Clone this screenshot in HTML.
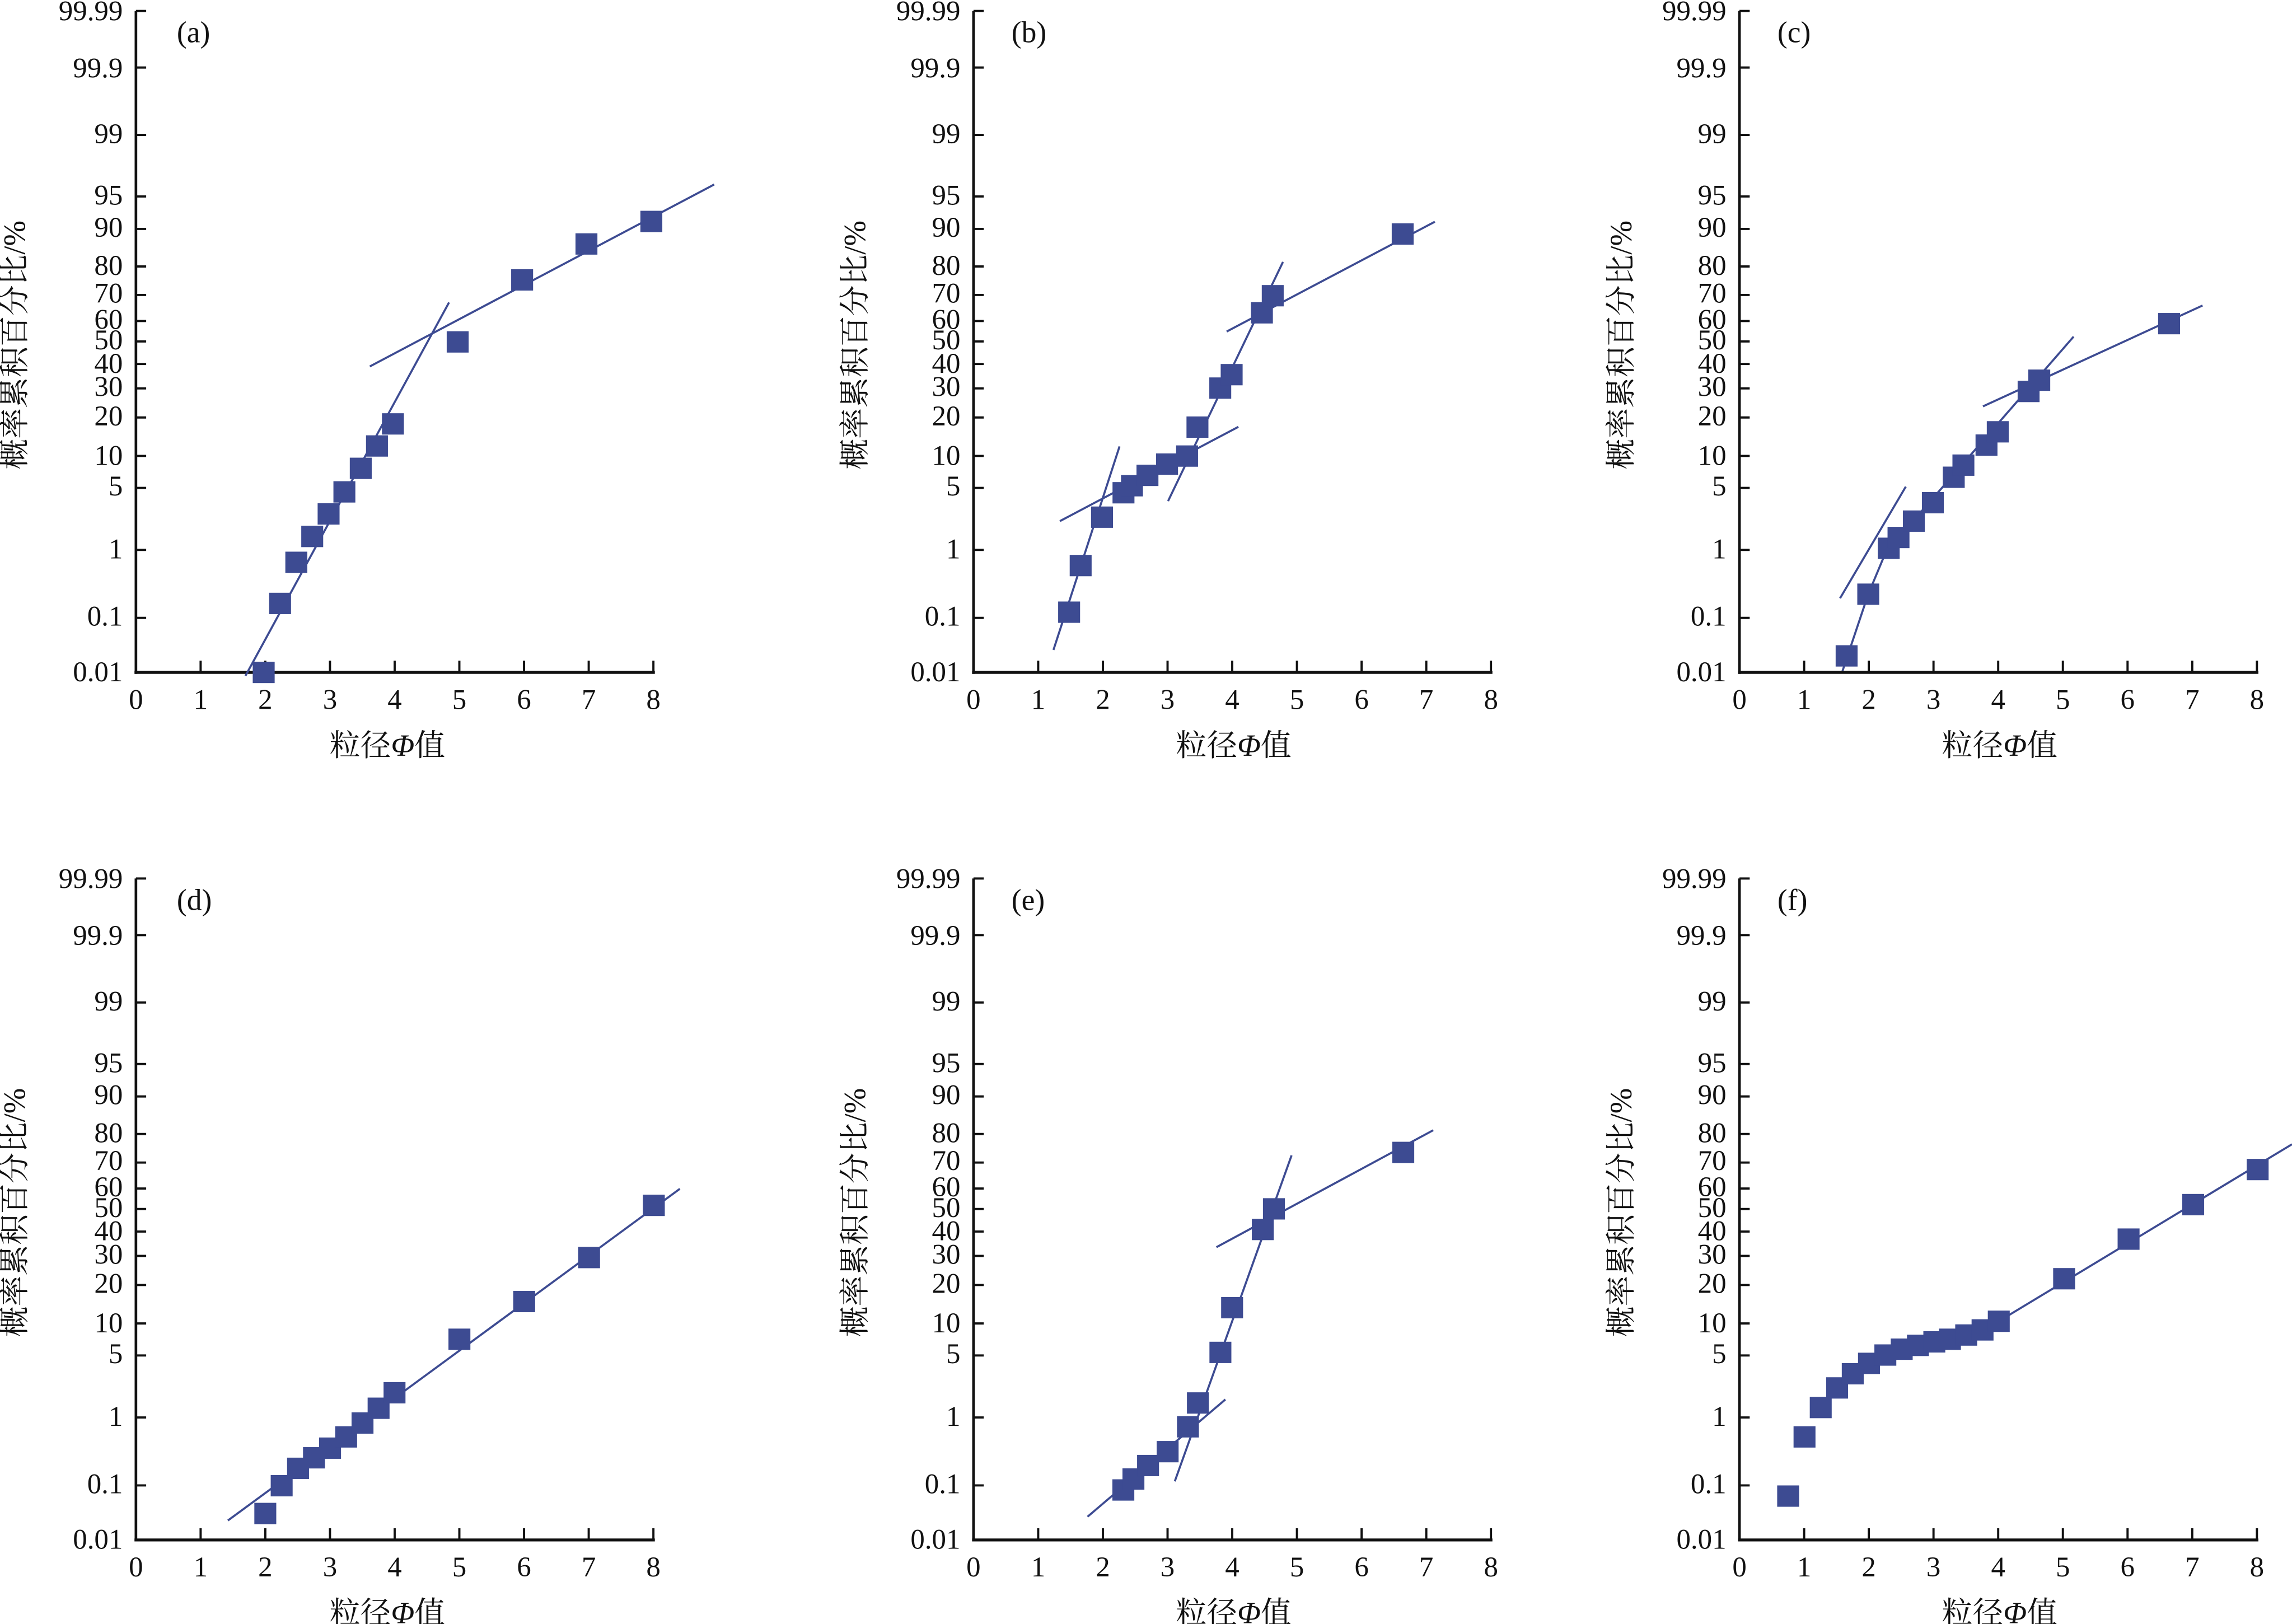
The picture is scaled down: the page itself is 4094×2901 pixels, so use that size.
<!DOCTYPE html>
<html><head><meta charset="utf-8">
<style>
html,body{margin:0;padding:0;background:#fff;}
svg{display:block;}
text{font-family:"Liberation Serif","Times New Roman","Noto Serif CJK SC","Noto Sans CJK SC",serif;fill:#111;}
.yl{font-size:19.5px;text-anchor:end;}
.xl{font-size:19.5px;text-anchor:middle;}
.tt{font-size:21px;text-anchor:middle;}
.pl{font-size:20.5px;}
</style></head>
<body>
<svg id="s" width="4094" height="2901" viewBox="0 0 1568 1111" preserveAspectRatio="none" xmlns="http://www.w3.org/2000/svg">
<g id="axes"></g>

<g transform="translate(93,0)">
<text class="yl" x="-9" y="14">99.99</text><text class="yl" x="-9" y="53">99.9</text><text class="yl" x="-9" y="98">99</text><text class="yl" x="-9" y="140">95</text><text class="yl" x="-9" y="162">90</text><text class="yl" x="-9" y="188">80</text><text class="yl" x="-9" y="207">70</text><text class="yl" x="-9" y="225">60</text><text class="yl" x="-9" y="239">50</text><text class="yl" x="-9" y="255">40</text><text class="yl" x="-9" y="271">30</text><text class="yl" x="-9" y="291">20</text><text class="yl" x="-9" y="318">10</text><text class="yl" x="-9" y="339">5</text><text class="yl" x="-9" y="382">1</text><text class="yl" x="-9" y="428">0.1</text><text class="yl" x="-9" y="466">0.01</text>
<text class="xl" x="0" y="485">0</text><text class="xl" x="44.25" y="485">1</text><text class="xl" x="88.5" y="485">2</text><text class="xl" x="132.75" y="485">3</text><text class="xl" x="177" y="485">4</text><text class="xl" x="221.25" y="485">5</text><text class="xl" x="265.5" y="485">6</text><text class="xl" x="309.75" y="485">7</text><text class="xl" x="354" y="485">8</text>
<text class="tt" x="172" y="517">粒径<tspan font-style="italic">Φ</tspan>值</text>
<text class="tt" transform="translate(-76,236) rotate(-90)">概率累积百分比/%</text>
<text class="pl" x="28" y="29">(a)</text>
</g>
<g transform="translate(666,0)">
<text class="yl" x="-9" y="14">99.99</text><text class="yl" x="-9" y="53">99.9</text><text class="yl" x="-9" y="98">99</text><text class="yl" x="-9" y="140">95</text><text class="yl" x="-9" y="162">90</text><text class="yl" x="-9" y="188">80</text><text class="yl" x="-9" y="207">70</text><text class="yl" x="-9" y="225">60</text><text class="yl" x="-9" y="239">50</text><text class="yl" x="-9" y="255">40</text><text class="yl" x="-9" y="271">30</text><text class="yl" x="-9" y="291">20</text><text class="yl" x="-9" y="318">10</text><text class="yl" x="-9" y="339">5</text><text class="yl" x="-9" y="382">1</text><text class="yl" x="-9" y="428">0.1</text><text class="yl" x="-9" y="466">0.01</text>
<text class="xl" x="0" y="485">0</text><text class="xl" x="44.25" y="485">1</text><text class="xl" x="88.5" y="485">2</text><text class="xl" x="132.75" y="485">3</text><text class="xl" x="177" y="485">4</text><text class="xl" x="221.25" y="485">5</text><text class="xl" x="265.5" y="485">6</text><text class="xl" x="309.75" y="485">7</text><text class="xl" x="354" y="485">8</text>
<text class="tt" x="178" y="517">粒径<tspan font-style="italic">Φ</tspan>值</text>
<text class="tt" transform="translate(-74,236) rotate(-90)">概率累积百分比/%</text>
<text class="pl" x="26" y="29">(b)</text>
</g>
<g transform="translate(1190,0)">
<text class="yl" x="-9" y="14">99.99</text><text class="yl" x="-9" y="53">99.9</text><text class="yl" x="-9" y="98">99</text><text class="yl" x="-9" y="140">95</text><text class="yl" x="-9" y="162">90</text><text class="yl" x="-9" y="188">80</text><text class="yl" x="-9" y="207">70</text><text class="yl" x="-9" y="225">60</text><text class="yl" x="-9" y="239">50</text><text class="yl" x="-9" y="255">40</text><text class="yl" x="-9" y="271">30</text><text class="yl" x="-9" y="291">20</text><text class="yl" x="-9" y="318">10</text><text class="yl" x="-9" y="339">5</text><text class="yl" x="-9" y="382">1</text><text class="yl" x="-9" y="428">0.1</text><text class="yl" x="-9" y="466">0.01</text>
<text class="xl" x="0" y="485">0</text><text class="xl" x="44.25" y="485">1</text><text class="xl" x="88.5" y="485">2</text><text class="xl" x="132.75" y="485">3</text><text class="xl" x="177" y="485">4</text><text class="xl" x="221.25" y="485">5</text><text class="xl" x="265.5" y="485">6</text><text class="xl" x="309.75" y="485">7</text><text class="xl" x="354" y="485">8</text>
<text class="tt" x="178" y="517">粒径<tspan font-style="italic">Φ</tspan>值</text>
<text class="tt" transform="translate(-74,236) rotate(-90)">概率累积百分比/%</text>
<text class="pl" x="26" y="29">(c)</text>
</g>
<g transform="translate(93,593.5)">
<text class="yl" x="-9" y="14">99.99</text><text class="yl" x="-9" y="53">99.9</text><text class="yl" x="-9" y="98">99</text><text class="yl" x="-9" y="140">95</text><text class="yl" x="-9" y="162">90</text><text class="yl" x="-9" y="188">80</text><text class="yl" x="-9" y="207">70</text><text class="yl" x="-9" y="225">60</text><text class="yl" x="-9" y="239">50</text><text class="yl" x="-9" y="255">40</text><text class="yl" x="-9" y="271">30</text><text class="yl" x="-9" y="291">20</text><text class="yl" x="-9" y="318">10</text><text class="yl" x="-9" y="339">5</text><text class="yl" x="-9" y="382">1</text><text class="yl" x="-9" y="428">0.1</text><text class="yl" x="-9" y="466">0.01</text>
<text class="xl" x="0" y="485">0</text><text class="xl" x="44.25" y="485">1</text><text class="xl" x="88.5" y="485">2</text><text class="xl" x="132.75" y="485">3</text><text class="xl" x="177" y="485">4</text><text class="xl" x="221.25" y="485">5</text><text class="xl" x="265.5" y="485">6</text><text class="xl" x="309.75" y="485">7</text><text class="xl" x="354" y="485">8</text>
<text class="tt" x="172" y="517">粒径<tspan font-style="italic">Φ</tspan>值</text>
<text class="tt" transform="translate(-76,236) rotate(-90)">概率累积百分比/%</text>
<text class="pl" x="28" y="29">(d)</text>
</g>
<g transform="translate(666,593.5)">
<text class="yl" x="-9" y="14">99.99</text><text class="yl" x="-9" y="53">99.9</text><text class="yl" x="-9" y="98">99</text><text class="yl" x="-9" y="140">95</text><text class="yl" x="-9" y="162">90</text><text class="yl" x="-9" y="188">80</text><text class="yl" x="-9" y="207">70</text><text class="yl" x="-9" y="225">60</text><text class="yl" x="-9" y="239">50</text><text class="yl" x="-9" y="255">40</text><text class="yl" x="-9" y="271">30</text><text class="yl" x="-9" y="291">20</text><text class="yl" x="-9" y="318">10</text><text class="yl" x="-9" y="339">5</text><text class="yl" x="-9" y="382">1</text><text class="yl" x="-9" y="428">0.1</text><text class="yl" x="-9" y="466">0.01</text>
<text class="xl" x="0" y="485">0</text><text class="xl" x="44.25" y="485">1</text><text class="xl" x="88.5" y="485">2</text><text class="xl" x="132.75" y="485">3</text><text class="xl" x="177" y="485">4</text><text class="xl" x="221.25" y="485">5</text><text class="xl" x="265.5" y="485">6</text><text class="xl" x="309.75" y="485">7</text><text class="xl" x="354" y="485">8</text>
<text class="tt" x="178" y="517">粒径<tspan font-style="italic">Φ</tspan>值</text>
<text class="tt" transform="translate(-74,236) rotate(-90)">概率累积百分比/%</text>
<text class="pl" x="26" y="29">(e)</text>
</g>
<g transform="translate(1190,593.5)">
<text class="yl" x="-9" y="14">99.99</text><text class="yl" x="-9" y="53">99.9</text><text class="yl" x="-9" y="98">99</text><text class="yl" x="-9" y="140">95</text><text class="yl" x="-9" y="162">90</text><text class="yl" x="-9" y="188">80</text><text class="yl" x="-9" y="207">70</text><text class="yl" x="-9" y="225">60</text><text class="yl" x="-9" y="239">50</text><text class="yl" x="-9" y="255">40</text><text class="yl" x="-9" y="271">30</text><text class="yl" x="-9" y="291">20</text><text class="yl" x="-9" y="318">10</text><text class="yl" x="-9" y="339">5</text><text class="yl" x="-9" y="382">1</text><text class="yl" x="-9" y="428">0.1</text><text class="yl" x="-9" y="466">0.01</text>
<text class="xl" x="0" y="485">0</text><text class="xl" x="44.25" y="485">1</text><text class="xl" x="88.5" y="485">2</text><text class="xl" x="132.75" y="485">3</text><text class="xl" x="177" y="485">4</text><text class="xl" x="221.25" y="485">5</text><text class="xl" x="265.5" y="485">6</text><text class="xl" x="309.75" y="485">7</text><text class="xl" x="354" y="485">8</text>
<text class="tt" x="178" y="517">粒径<tspan font-style="italic">Φ</tspan>值</text>
<text class="tt" transform="translate(-74,236) rotate(-90)">概率累积百分比/%</text>
<text class="pl" x="26" y="29">(f)</text>
</g>

<g stroke="#3d4b92" stroke-width="1.4" fill="none">
<line x1="167.9" y1="462.4" x2="307.2" y2="206.9"/><line x1="253" y1="250.7" x2="488.6" y2="126.2"/>
<line x1="720.7" y1="444.6" x2="765.9" y2="305.4"/><line x1="725.1" y1="356.5" x2="847.2" y2="292"/><line x1="799.1" y1="342.8" x2="877.7" y2="179.2"/><line x1="839.2" y1="226.8" x2="981.6" y2="151.7"/>
<line x1="1258.8" y1="409.3" x2="1303.8" y2="332.9"/><polyline points="1260.5,459 1278.1,406.5 1290,378 1418.6,230.3"/><line x1="1356.6" y1="278" x2="1506.8" y2="209"/>
<line x1="155.9" y1="1040.2" x2="465.1" y2="813.3"/>
<line x1="744" y1="1037.6" x2="838.3" y2="957.4"/><line x1="803.7" y1="1013.4" x2="883.6" y2="790.4"/><line x1="832.2" y1="853.2" x2="980.5" y2="773.2"/>
<line x1="1367.4" y1="903.9" x2="1568" y2="782.8"/>
</g>
<g id="sq" fill="#3d4b92"></g>
</svg>
<script>
var NS="http://www.w3.org/2000/svg";
var ax=document.getElementById("axes");
var ticks=[7.5,46.2,92.3,134.4,156.6,182.3,201.8,219.6,233.6,249,265.7,285.6,311.9,333.8,376.2,422.7];
function el(p,n,a){var e=document.createElementNS(NS,n);for(var k in a)e.setAttribute(k,a[k]);p.appendChild(e);return e;}
[[93,0],[666,0],[1190,0],[93,593.5],[666,593.5],[1190,593.5]].forEach(function(o){
 var x0=o[0],yo=o[1];
 el(ax,"line",{x1:x0,y1:yo+7.5,x2:x0,y2:yo+461,stroke:"#111","stroke-width":1.8});
 el(ax,"line",{x1:x0-1,y1:yo+460,x2:x0+355,y2:yo+460,stroke:"#111","stroke-width":2});
 ticks.forEach(function(t){el(ax,"line",{x1:x0,y1:yo+t,x2:x0+7,y2:yo+t,stroke:"#111","stroke-width":1.5});});
 for(var i=1;i<=8;i++){var xx=x0+i*44.25;el(ax,"line",{x1:xx,y1:yo+460,x2:xx,y2:yo+452,stroke:"#111","stroke-width":1.5});}
});
var pts=[
[180.4,460],[191.6,412.8],[202.7,384.7],[213.6,367],[224.8,351.6],[235.6,336.5],[246.8,320.4],[257.9,305.1],[268.8,290],[313.1,233.9],[357.2,191.5],[401.2,166.9],[445.6,151.5],
[731.4,418.8],[739.3,386.9],[753.9,353.8],[768.6,337.1],[774.4,332.3],[785,325.2],[798.4,317.5],[812.1,312],[819.2,292.2],[834.8,265.5],[842.6,256.3],[863.3,214],[870.7,202.3],[959.6,160.1],
[1263.3,448.7],[1278.1,406.5],[1292.1,375.1],[1298.8,367.7],[1309.3,356.5],[1322.3,343.9],[1336.6,326.5],[1343.2,318.2],[1359,304.5],[1366.7,295.4],[1387.8,267.8],[1395.1,260.1],[1483.9,221.4],
[181.5,1035.4],[192.7,1016.4],[203.9,1004.5],[214.8,997.3],[225.8,990.7],[236.8,983],[248,973.5],[259,963.4],[269.9,952.8],[314.3,916.2],[358.6,890.4],[403,860.3],[447.3,824.6],
[768.5,1019.3],[775.4,1011.8],[785.4,1002.6],[798.8,993.1],[812.7,976.1],[819.5,959.8],[834.9,925.2],[842.9,894.6],[863.9,841.1],[871.5,827],[960,788.4],
[1223.3,1023.5],[1234.5,983],[1245.6,962.9],[1256.8,949.5],[1267.5,939.8],[1278.6,932.7],[1289.8,927],[1301,923],[1312.1,920.4],[1323.3,918],[1334,916.2],[1345.1,913.3],[1356.3,909.8],[1367.4,903.9],[1412.1,874.8],[1456.2,847.7],[1500.4,824.1],[1544.5,800.1]
];
var sq=document.getElementById("sq");
pts.forEach(function(p){el(sq,"rect",{x:p[0]-7.5,y:p[1]-7.3,width:15,height:14.6});});
</script>
</body></html>
